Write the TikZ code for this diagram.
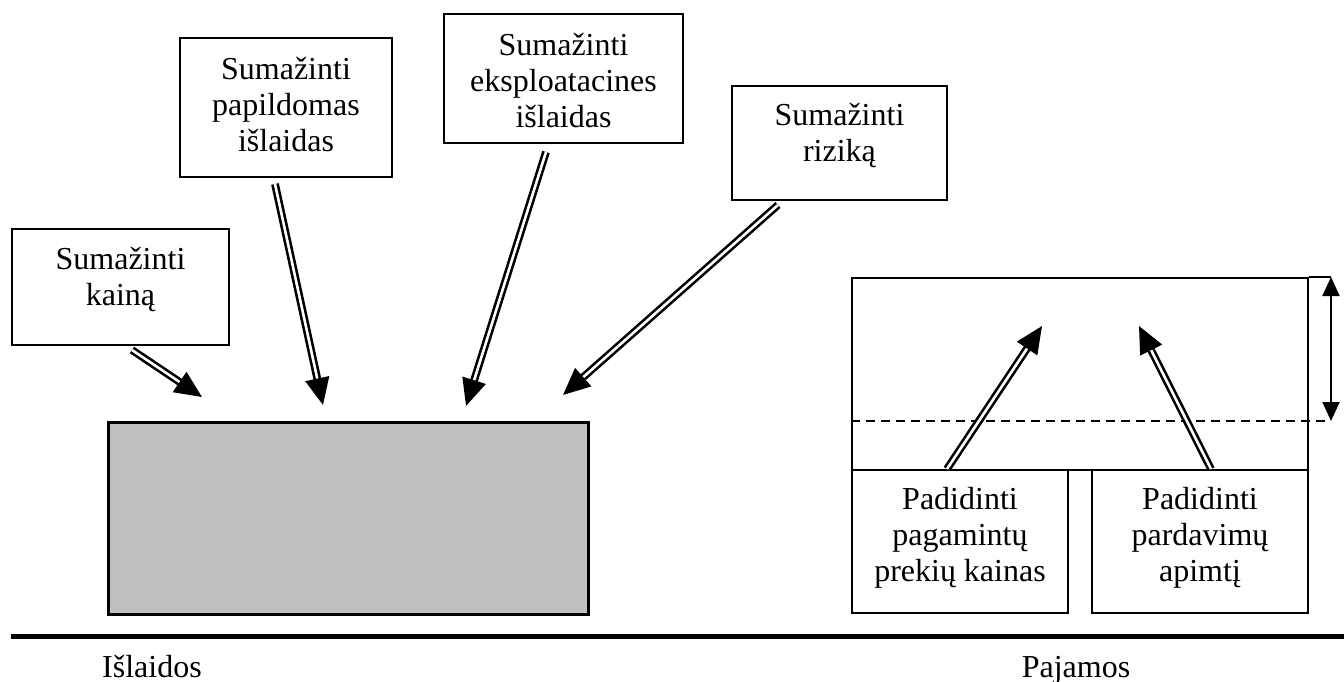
\documentclass[tikz,border=0pt]{standalone}
\usepackage{fontspec}
\setmainfont{Liberation Serif}
\usetikzlibrary{arrows.meta,calc}
\definecolor{boxgray}{RGB}{192,192,192}
\begin{document}
\begin{tikzpicture}[x=0.5pt,y=-0.5pt,
  box/.style={draw, line width=1pt, rectangle, inner sep=0pt, anchor=north west},
  txt/.style={align=center, inner sep=0pt, font=\fontsize{16}{18.2}\selectfont, anchor=base},
  push/.style={draw, line width=1.3pt, double, double distance=1.3pt,
    -{Triangle[length=13.5pt,width=12pt]}},
  span/.style={draw, line width=1pt,
    {Triangle[length=9.5pt,width=8.5pt]}-{Triangle[length=9.5pt,width=8.5pt]}},
  level/.style={draw, line width=1pt, dash pattern=on 4.5pt off 3pt},
  rule/.style={draw, line width=2.5pt}
]
\useasboundingbox (0,0) rectangle (1344,681);

% cost-side boxes
\node[box, minimum width=108.5pt, minimum height=58pt]   (a) at (11,228) {};
\node[box, minimum width=106pt,   minimum height=69.5pt] (b) at (179,37) {};
\node[box, minimum width=119.5pt, minimum height=64.5pt] (c) at (443,13) {};
\node[box, minimum width=107.5pt, minimum height=57pt]   (d) at (731,85) {};
% texts are placed by the baseline of their last line
\node[txt] (at) at ([yshift=-38.7pt]a.north) {Sumažinti\\kainą};
\node[txt] (bt) at ([yshift=-57.4pt]b.north) {Sumažinti\\papildomas\\išlaidas};
\node[txt] (ct) at ([yshift=-57.4pt]c.north) {Sumažinti\\eksploatacines\\išlaidas};
\node[txt] (dt) at ([yshift=-38.2pt]d.north) {Sumažinti\\riziką};

% cost block
\node[box, fill=boxgray, line width=1.3pt, minimum width=240pt, minimum height=96pt] (g) at (107,421) {};

% revenue block
\node[box, minimum width=228pt, minimum height=96pt] (f) at (851,277) {};
\node[box, minimum width=108pt, minimum height=71.5pt] (l) at (851,469) {};
\node[box, minimum width=108pt, minimum height=71.5pt] (r) at (1091,469) {};
\node[txt] (lt) at ([yshift=-56.4pt]l.north) {Padidinti\\pagamintų\\prekių kainas};
\node[txt] (rt) at ([yshift=-56.4pt]r.north) {Padidinti\\pardavimų\\apimtį};

% level marks on the revenue side
\coordinate (topend) at (1331,277);
\coordinate (dash-l) at (851,421);
\coordinate (dash-r) at (1331,421);
\draw[line width=1pt] (f.north east) -- (topend);
\draw[level] (dash-l) -- (dash-r);
\draw[span] (topend) -- (dash-r);

% arrow start and end points
\coordinate (a-out) at ([shift={(121,4)}]a.south west);
\coordinate (b-out) at ([shift={(96,6)}]b.south west);
\coordinate (c-out) at ([shift={(103,8)}]c.south west);
\coordinate (d-out) at ([shift={(47,4)}]d.south west);
\coordinate (l-out) at ([shift={(96,0)}]l.north west);
\coordinate (r-out) at ([shift={(120,0)}]r.north west);
\coordinate (a-in) at (202,397);
\coordinate (b-in) at (323,405);
\coordinate (c-in) at (466,406);
\coordinate (d-in) at (563,395);
\coordinate (l-in) at (1042,326);
\coordinate (r-in) at (1139,326);

\draw[push] (a-out) -- (a-in);
\draw[push] (b-out) -- (b-in);
\draw[push] (c-out) -- (c-in);
\draw[push] (d-out) -- (d-in);
\draw[push] (l-out) -- (l-in);
\draw[push] (r-out) -- (r-in);

% baseline and captions
\coordinate (rule-l) at (11,636);
\coordinate (rule-r) at (1344,636);
\draw[rule] (rule-l) -- (rule-r);
\node[txt] (cost) at (152,677) {Išlaidos};
\node[txt] (income) at (1076,677) {Pajamos};
\end{tikzpicture}
\end{document}
